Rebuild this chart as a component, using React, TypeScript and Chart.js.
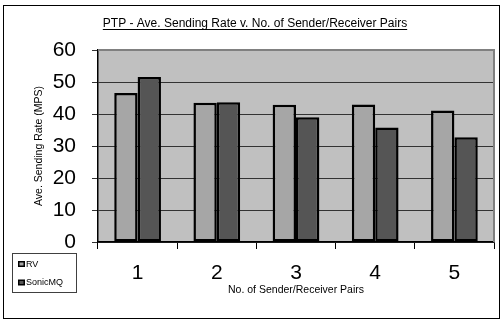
import React, { useEffect, useRef } from "react";
import { Chart, registerables } from "chart.js";

Chart.register(...registerables);

const categories = ["1", "2", "3", "4", "5"];
const rvValues = [46.6, 43.5, 42.9, 43.0, 41.1];
const sonicValues = [51.6, 43.7, 39.0, 35.8, 32.7];
const seriesNames = ["RV", "SonicMQ"];
const yTicks = [0, 10, 20, 30, 40, 50, 60];
const chartTitle = "PTP - Ave. Sending Rate v. No. of Sender/Receiver Pairs";
const xTitle = "No. of Sender/Receiver Pairs";
const yTitle = "Ave. Sending Rate (MPS)";

const FONT = "'Liberation Sans', Arial, sans-serif";

const decorPlugin = {
  id: "decor",
  beforeDraw(chart: any) {
    const { ctx, chartArea } = chart;
    ctx.save();
    ctx.fillStyle = "#ffffff";
    ctx.fillRect(0, 0, chart.width, chart.height);
    ctx.fillStyle = "#c0c0c0";
    ctx.fillRect(chartArea.left, chartArea.top, chartArea.right - chartArea.left, chartArea.bottom - chartArea.top);
    ctx.restore();
  },
  beforeDatasetsDraw(chart: any) {
    const { ctx, chartArea } = chart;
    ctx.save();
    ctx.strokeStyle = "#808080";
    ctx.lineWidth = 2;
    ctx.beginPath();
    ctx.moveTo(chartArea.left, chartArea.top);
    ctx.lineTo(chartArea.right, chartArea.top);
    ctx.lineTo(chartArea.right, chartArea.bottom);
    ctx.stroke();
    ctx.restore();
  },
  afterDraw(chart: any) {
    const { ctx } = chart;
    ctx.save();
    // outer border
    ctx.strokeStyle = "#000000";
    ctx.lineWidth = 1;
    ctx.strokeRect(3.5, 5.5, 496, 313);
    // title
    ctx.font = `12px ${FONT}`;
    ctx.fillStyle = "#000";
    ctx.textAlign = "center";
    ctx.textBaseline = "alphabetic";
    const tx = 255;
    const ty = 27;
    ctx.fillText(chartTitle, tx, ty);
    const w = ctx.measureText(chartTitle).width;
    ctx.beginPath();
    ctx.moveTo(tx - w / 2, ty + 2.5);
    ctx.lineTo(tx + w / 2, ty + 2.5);
    ctx.stroke();
    // legend
    ctx.strokeStyle = "#404040";
    ctx.strokeRect(12.5, 253.5, 64, 39);
    ctx.font = `9px ${FONT}`;
    ctx.textAlign = "left";
    ctx.textBaseline = "middle";
    chart.data.datasets.forEach((ds: any, i: number) => {
      const cy = 264 + i * 18.5;
      ctx.fillStyle = "#000";
      ctx.fillRect(18, cy - 3, 7, 6);
      ctx.fillStyle = ds.backgroundColor;
      ctx.fillRect(19.5, cy - 1.5, 4, 3);
      ctx.fillStyle = "#000";
      ctx.fillText(ds.label, 26, cy + 0.5);
    });
    ctx.restore();
  },
};

export default function App() {
  const ref = useRef<HTMLCanvasElement>(null);
  useEffect(() => {
    const chart = new Chart(ref.current!, {
      type: "bar",
      data: {
        labels: categories,
        datasets: [
          {
            label: seriesNames[0],
            data: rvValues,
            backgroundColor: "#a6a6a6",
            borderColor: "#000000",
            borderWidth: 2.5,
            borderSkipped: false,
          },
          {
            label: seriesNames[1],
            data: sonicValues,
            backgroundColor: "#555555",
            borderColor: "#000000",
            borderWidth: 2.5,
            borderSkipped: false,
          },
        ],
      },
      options: {
        responsive: false,
        animation: false,
        layout: { padding: { left: 0, top: 50, right: 10, bottom: 18 } },
        plugins: { legend: { display: false }, title: { display: false }, tooltip: { enabled: false } },
        datasets: { bar: { categoryPercentage: 0.59, barPercentage: 1 } },
        scales: {
          x: {
            grid: { drawOnChartArea: false, offset: true, tickLength: 7, color: "#000" },
            border: { color: "#000", width: 1.5 },
            ticks: { font: { family: FONT, size: 21 }, color: "#000", padding: 12 },
            title: { display: true, text: xTitle, font: { family: FONT, size: 10.5 }, color: "#000", padding: { top: 0, bottom: 6 } },
            afterFit(scale: any) {
              scale.height = 60;
            },
          },
          y: {
            min: 0,
            max: 60,
            afterBuildTicks(scale: any) {
              scale.ticks = yTicks.map((v) => ({ value: v }));
            },
            grid: { color: "#333", tickLength: 6 },
            border: { color: "#000", width: 1.5 },
            ticks: { font: { family: FONT, size: 21 }, color: "#000", padding: 16 },
            title: { display: true, text: yTitle, font: { family: FONT, size: 10.5 }, color: "#000", padding: { top: 33, bottom: 0 } },
            afterFit(scale: any) {
              scale.width = 98;
            },
          },
        },
      },
      plugins: [decorPlugin],
    });
    return () => chart.destroy();
  }, []);
  return (
    <div style={{ position: "absolute", left: 0, top: 0, width: 504, height: 320 }}>
      <canvas ref={ref} width={504} height={320} />
    </div>
  );
}
